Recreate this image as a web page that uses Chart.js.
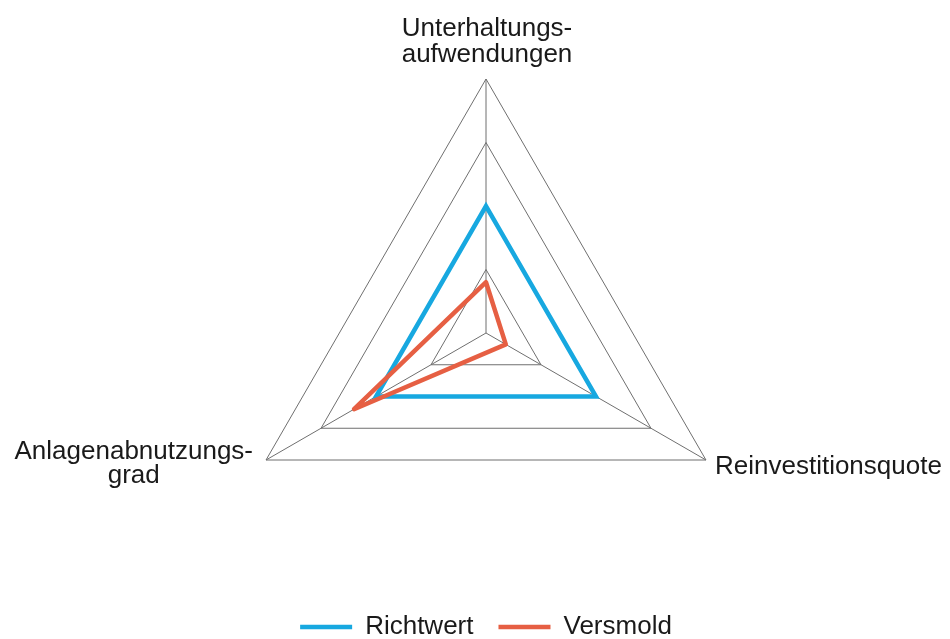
<!DOCTYPE html>
<html>
<head>
<meta charset="utf-8">
<script src="https://cdn.jsdelivr.net/npm/chart.js@4"></script>
<style>
  html, body { margin: 0; padding: 0; background: #fff; }
  #wrap { width: 950px; height: 639px; }
</style>
</head>
<body>
<div id="wrap"><canvas id="radar-chart"></canvas></div>
<script>
/* ── Data ── */
const categories = [
    ['Unterhaltungs-', 'aufwendungen'],
    ['Reinvestitionsquote'],
    ['Anlagenabnutzungs-', 'grad']
];
const richtwertValues = [50, 50, 50];
const versmoldValues = [20, 9, 60];
const scaleTicks = { min: 0, max: 100, step: 25 };

const FONT = '"Liberation Sans", Arial, sans-serif';

/* ── Axis labels drawn next to each vertex of the outer triangle ── */
const axisLabelPlugin = {
    id: 'axisLabels',
    afterDraw(chart) {
        const scale = chart.scales.r;
        const ctx = chart.ctx;
        ctx.save();
        ctx.font = `26px ${FONT}`;
        ctx.fillStyle = '#1a1a1a';
        ctx.textBaseline = 'alphabetic';
        categories.forEach((lines, i) => {
            const p = scale.getPointPosition(i, scale.drawingArea);
            if (i === 0) {
                ctx.textAlign = 'center';
                lines.forEach((t, k) => ctx.fillText(t, p.x + 1, p.y - 43 + k * 26));
            } else if (i === 1) {
                ctx.textAlign = 'left';
                lines.forEach((t, k) => ctx.fillText(t, p.x + 9, p.y + 14 + k * 26));
            } else {
                // block is right-aligned to the vertex, lines centred inside it
                const w = Math.max(...lines.map(t => ctx.measureText(t).width));
                const cx = p.x - 13 - w / 2;
                ctx.textAlign = 'center';
                lines.forEach((t, k) => ctx.fillText(t, cx, p.y - 1 + k * 24));
            }
        });
        ctx.restore();
    }
};

new Chart(document.getElementById('radar-chart'), {
    type: 'radar',
    data: {
        labels: categories,
        datasets: [{
            label: 'Richtwert',
            data: richtwertValues,
            borderColor: '#17A8E0',
            backgroundColor: '#17A8E0',
            borderWidth: 4.5,
            borderJoinStyle: 'miter',
            borderCapStyle: 'round',
            pointRadius: 0,
            fill: false,
            order: 2
        }, {
            label: 'Versmold',
            data: versmoldValues,
            borderColor: '#E65F43',
            backgroundColor: '#E65F43',
            borderWidth: 4.5,
            borderJoinStyle: 'round',
            borderCapStyle: 'round',
            pointRadius: 0,
            fill: false,
            order: 1
        }]
    },
    options: {
        responsive: true,
        maintainAspectRatio: false,
        animation: false,
        layout: { padding: { top: 78, left: 232, right: 210, bottom: -11 } },
        plugins: {
            tooltip: { enabled: false },
            legend: {
                position: 'bottom',
                labels: {
                    usePointStyle: true,
                    pointStyle: 'line',
                    pointStyleWidth: 52,
                    padding: 25,
                    color: '#1a1a1a',
                    font: { family: FONT, size: 26 },
                    sort: (a, b) => a.datasetIndex - b.datasetIndex
                }
            }
        },
        scales: {
            r: {
                min: scaleTicks.min,
                max: scaleTicks.max,
                ticks: { display: false, stepSize: scaleTicks.step },
                pointLabels: { display: false },
                grid: { color: '#6f6f6f', lineWidth: 1 },
                angleLines: { color: '#6f6f6f', lineWidth: 1 }
            }
        }
    },
    plugins: [axisLabelPlugin]
});
</script>
</body>
</html>
